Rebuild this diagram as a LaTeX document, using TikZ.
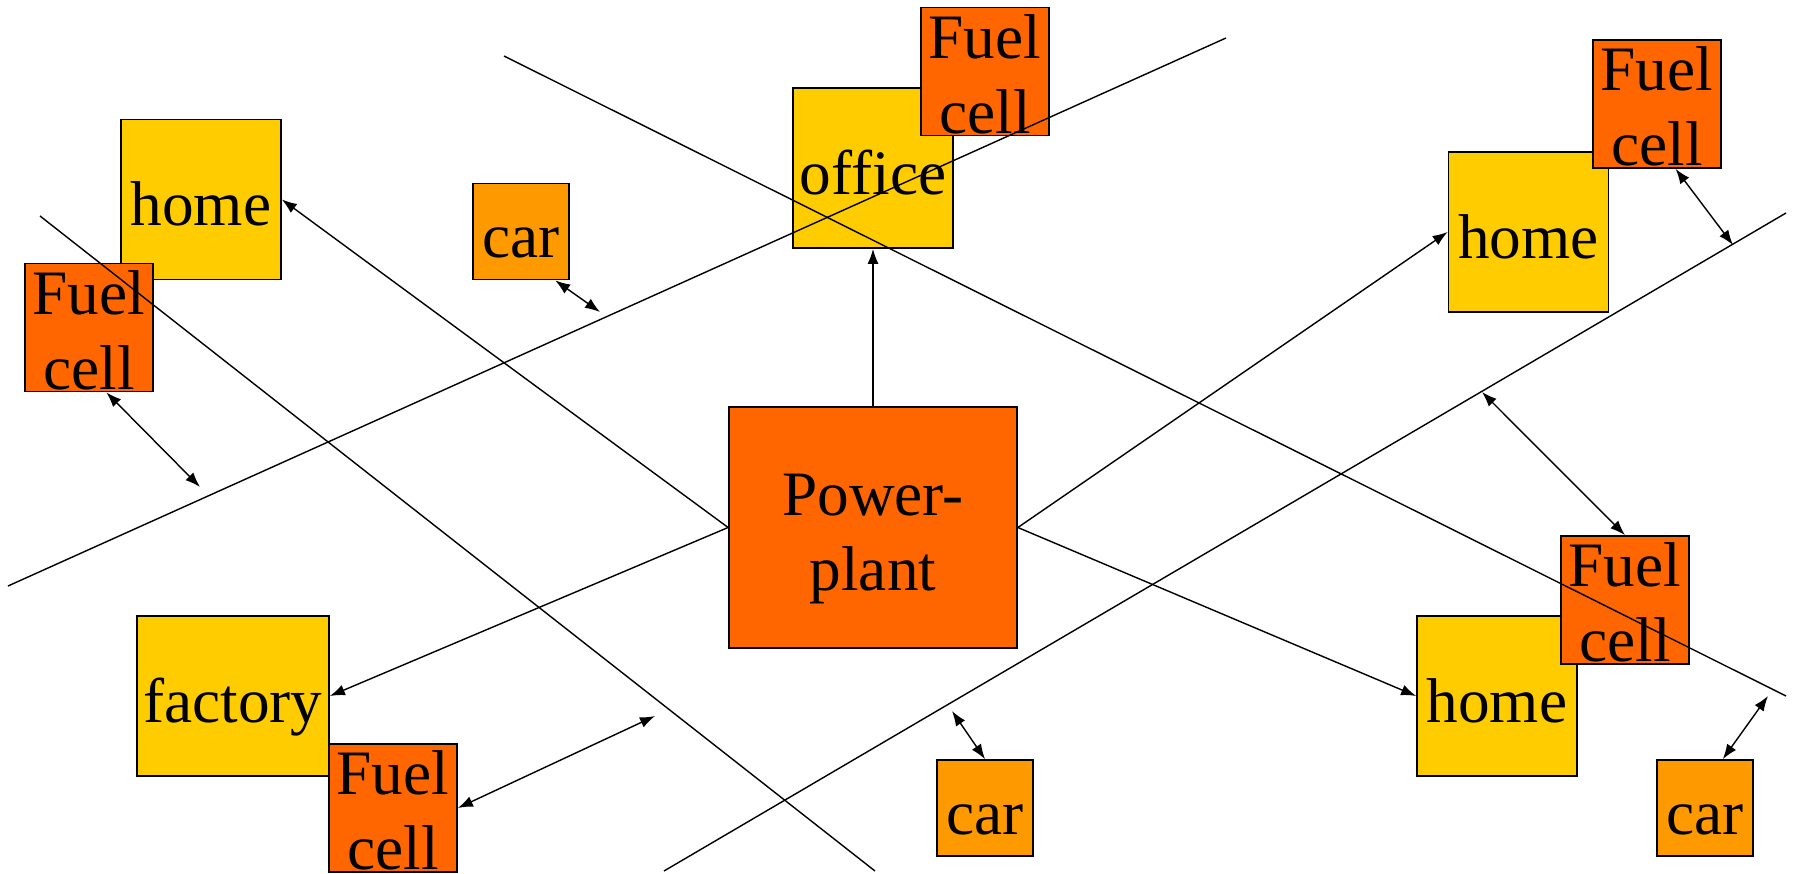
\documentclass[tikz,border=0pt]{standalone}
\usepackage{fontspec}
\setmainfont{Liberation Serif}
\usetikzlibrary{arrows.meta,positioning}
\definecolor{bldgyel}{HTML}{FFCC00}
\definecolor{cellred}{HTML}{FF6600}
\definecolor{carorg}{HTML}{FF9900}
\tikzset{
  bldg/.style={draw,line width=0.5pt,fill=bldgyel,inner sep=0pt,minimum width=16mm,minimum height=16mm,
               text height=17pt,text depth=2.2pt},
  fcell/.style={draw,line width=0.5pt,fill=cellred,inner sep=0pt,minimum width=12.8mm,minimum height=12.8mm,
                align=center,text height=35pt,text depth=0pt},
  vehicle/.style={draw,line width=0.5pt,fill=carorg,inner sep=0pt,minimum width=9.6mm,minimum height=9.6mm,
                  text height=17pt,text depth=2.2pt},
  plantbox/.style={draw,line width=0.5pt,fill=cellred,inner sep=0pt,minimum width=28.8mm,minimum height=24.1mm,
                   align=center,text height=40pt,text depth=4pt},
  arr/.style={-{Latex[length=1.5mm,width=1.1mm]},line width=0.4pt},
  darr/.style={{Latex[length=1.5mm,width=1.1mm]}-{Latex[length=1.5mm,width=1.1mm]},line width=0.4pt},
  road/.style={line width=0.4pt},
}

\begin{document}
\begin{tikzpicture}[x=0.1mm,y=-0.1mm,font=\fontsize{18}{21.3}\selectfont]
  \useasboundingbox (0,0) rectangle (1793,874);
  % buildings and their cells
  \node[bldg] (homeA) at (201,199.5) {home};
  \node[fcell] (fuelA) at (89,327.5) {Fuel\\cell};
  \node[vehicle] (carA) at (521,231.5) {car};
  \node[bldg] (office) at (873,168) {office};
  \node[fcell] (fuelB) at (985,71.5) {Fuel\\cell};
  \node[bldg] (homeB) at (1528.5,232) {home};
  \node[fcell] (fuelC) at (1657,104) {Fuel\\cell};
  \node[plantbox] (plant) at (873,527.5) {Power-\\plant};
  \node[bldg,minimum width=19.2mm] (factory) at (233,696) {factory};
  \node[fcell] (fuelD) at (393,808) {Fuel\\cell};
  \node[vehicle] (carB) at (985,808) {car};
  \node[bldg] (homeC) at (1497,696) {home};
  \node[fcell] (fuelE) at (1625,600) {Fuel\\cell};
  \node[vehicle] (carC) at (1705,808) {car};
  % grid lines
  \coordinate (g1a) at (40,216);   \coordinate (g1b) at (875,871);
  \coordinate (g2a) at (8,586);    \coordinate (g2b) at (1226,38);
  \coordinate (g3a) at (504,56);   \coordinate (g3b) at (1786,696);
  \coordinate (g4a) at (664,871);  \coordinate (g4b) at (1786,213);
  \draw[road] (g1a) -- (g1b);
  \draw[road] (g2a) -- (g2b);
  \draw[road] (g3a) -- (g3b);
  \draw[road] (g4a) -- (g4b);
  % supply from the plant
  \draw[arr] (plant.north) -- (office.south);
  \draw[arr] (plant.west) -- (homeA.east);
  \draw[arr] (plant.west) -- (factory.east);
  \draw[arr] (plant.east) -- (homeB.west);
  \draw[arr] (plant.east) -- (homeC.west);
  % exchange with the grid
  \coordinate (pA) at (200,487);
  \coordinate (pB) at (600,312);
  \coordinate (pC) at (655,716);
  \coordinate (pD) at (952,711);
  \coordinate (pE) at (1733,245);
  \coordinate (pF) at (1482,392);
  \coordinate (pG) at (1768,696);
  \draw[darr] (fuelA.-75) -- (pA);
  \draw[darr] (carA.-55) -- (pB);
  \draw[darr] (fuelD.east) -- (pC);
  \draw[darr] (carB.north) -- (pD);
  \draw[darr] (fuelC.-74) -- (pE);
  \draw[darr] (pF) -- (fuelE.north);
  \draw[darr] (carC.70) -- (pG);
\end{tikzpicture}
\end{document}
